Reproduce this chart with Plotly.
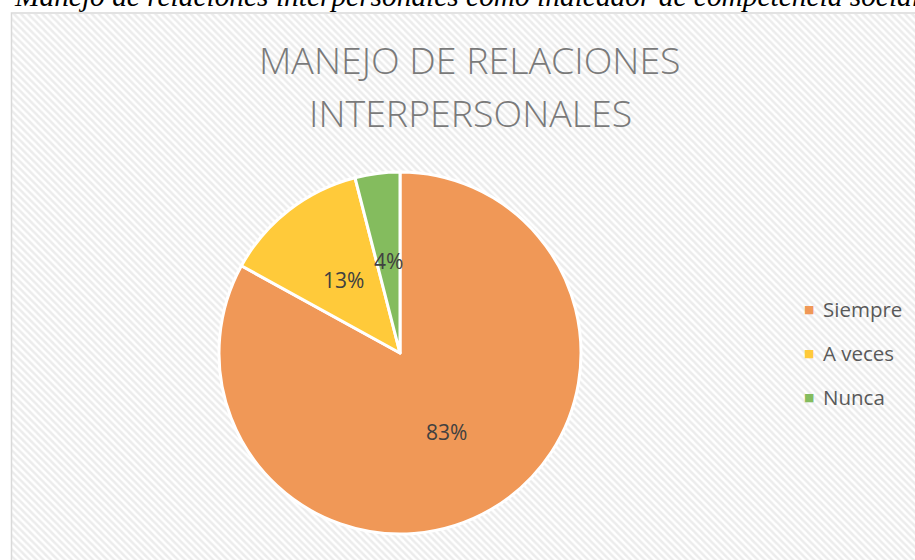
import numpy as np
import plotly.graph_objects as go

# datos del gráfico
categorias = ["Siempre", "A veces", "Nunca"]
porcentajes = [83, 13, 4]
colores = ["#F09857", "#FFCA3A", "#84BC5E"]

titulo = ["MANEJO DE RELACIONES", "INTERPERSONALES"]
leyenda_titulo = "Manejo de relaciones interpersonales como indicador de competencia social"

W, H = 915, 560
FONT = "Open Sans"

# posición y tamaño del pastel (px)
CX, CY, R = 400, 353, 181

fig = go.Figure()

# fondo rayado del área del gráfico
fig.add_trace(
    go.Scatter(
        x=[12, W + 20, W + 20, 12, 12],
        y=[-20, -20, H - 14, H - 14, -20],
        mode="lines",
        fill="toself",
        fillcolor="white",
        fillpattern=dict(shape="\\", fgcolor="#d9d9d9", bgcolor="white", size=5, solidity=0.5),
        line=dict(width=0),
        hoverinfo="skip",
        showlegend=False,
    )
)

fig.add_trace(
    go.Pie(
        labels=categorias,
        values=porcentajes,
        sort=False,
        direction="clockwise",
        rotation=0,
        marker=dict(colors=colores, line=dict(color="white", width=3)),
        textposition="none",
        domain=dict(x=[(CX - R) / W, (CX + R) / W], y=[(H - CY - R) / H, (H - CY + R) / H]),
        showlegend=False,
        hoverinfo="label+percent",
    )
)

fig.update_xaxes(range=[0, W], visible=False, fixedrange=True)
fig.update_yaxes(range=[0, H], visible=False, fixedrange=True)

# borde del área del gráfico
fig.add_shape(
    type="rect", x0=11.5, y0=-20, x1=W + 20, y1=H - 13,
    line=dict(color="#d9d9d9", width=1.5), layer="above",
)

anotaciones = [
    dict(
        text=leyenda_titulo, x=11.5, y=H - 12, xanchor="left", yanchor="bottom",
        showarrow=False, yshift=-2,
        font=dict(family="Liberation Serif", size=29.4, color="#000000", style="italic"),
    ),
]

# título en dos líneas
for linea, yc in zip(titulo, [59.5, 112.5]):
    anotaciones.append(dict(
        text=linea, x=470, y=H - yc, xanchor="center", yanchor="middle",
        showarrow=False,
        font=dict(family=FONT, size=37.5, color="#7a7a7a", weight=300),
    ))

# etiquetas de porcentaje en el centro de cada sector
total = sum(porcentajes)
acum = np.cumsum([0] + porcentajes[:-1])
for p, a in zip(porcentajes, acum):
    ang = 2 * np.pi * (a + p / 2) / total
    r_txt = 0.51 * R
    anotaciones.append(dict(
        text=f"{p}%", x=CX + r_txt * np.sin(ang), y=(H - CY) + r_txt * np.cos(ang),
        xanchor="center", yanchor="middle", showarrow=False,
        font=dict(family=FONT, size=21, color="#404040"),
    ))

# leyenda a la derecha
ley_y = [309, 353, 397]
for cat, col, yy in zip(categorias, colores, ley_y):
    anotaciones.append(dict(
        text="■", x=809, y=H - yy, xanchor="center", yanchor="middle",
        showarrow=False, font=dict(family="DejaVu Sans", size=11, color=col),
    ))
    anotaciones.append(dict(
        text=cat, x=821, y=H - yy, xanchor="left", yanchor="middle",
        showarrow=False, font=dict(family=FONT, size=20.5, color="#595959"),
    ))

fig.update_layout(
    width=W,
    height=H,
    margin=dict(l=0, r=0, t=0, b=0),
    paper_bgcolor="white",
    plot_bgcolor="rgba(0,0,0,0)",
    annotations=anotaciones,
    showlegend=False,
)

fig.write_html(
    "out.html",
    config={"displayModeBar": False},
    post_script="document.body.style.margin='0';",
)
